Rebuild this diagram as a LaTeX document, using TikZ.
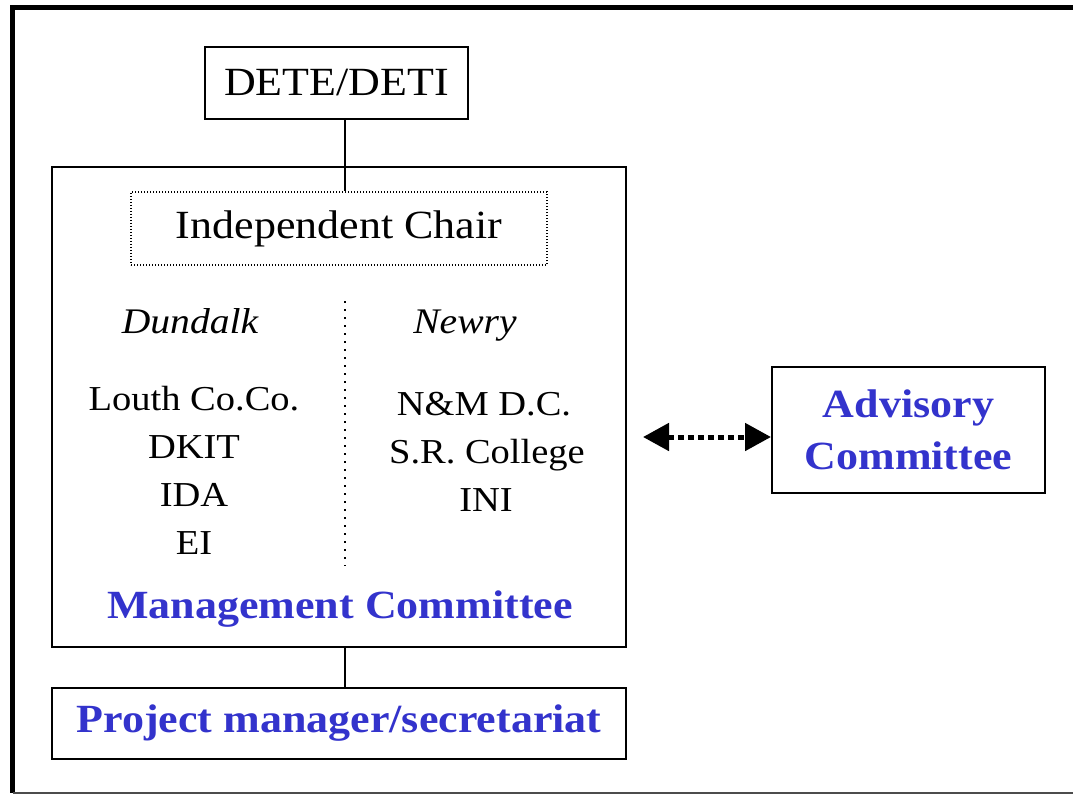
\documentclass[tikz,border=0pt]{standalone}
\usepackage{fontspec}
\setmainfont{Liberation Serif}[FakeStretch=1.1]
\usetikzlibrary{arrows.meta}
\definecolor{mgmtblue}{RGB}{51,51,204}

\begin{document}
\begin{tikzpicture}[x=0.5pt, y=-0.5pt,
  box/.style={draw, line width=1pt, inner sep=0pt, align=center},
  chairbox/.style={draw, line width=0.8pt, dash pattern=on 0.6pt off 0.9pt, inner sep=0pt},
  plain/.style={font=\fontsize{20}{24}\selectfont},
  member/.style={font=\fontsize{17.5}{21}\selectfont, inner sep=0pt, anchor=base},
  town/.style={font=\fontsize{18}{21}\selectfont\itshape, inner sep=0pt, anchor=base},
  bluetitle/.style={font=\fontsize{20}{26}\selectfont\bfseries, text=mgmtblue},
  link/.style={line width=1pt},
  advlink/.style={line width=2.5pt, dash pattern=on 3pt off 2pt,
    {Triangle[length=13pt, width=13.5pt]}-{Triangle[length=13pt, width=13.5pt]}}]
  \useasboundingbox (0,0) rectangle (1073,794);
  \clip (0,0) rectangle (1073,794);
  % outer frame, runs off the right edge
  \draw[line width=2.5pt] (1090,7) -- (12.5,7) -- (12.5,793);
  \draw[line width=1pt, black!70] (12.5,793) -- (1090,793);
  % boxes
  \node[box, plain, minimum width=131.5pt, minimum height=36pt] (dete) at (336.5,83) {DETE/DETI};
  \node[box, minimum width=287pt, minimum height=240pt] (mgmt) at (339,407) {};
  \node[chairbox, plain, minimum width=208pt, minimum height=36.5pt] (chair) at (339,228.5) {Independent Chair};
  \node[box, bluetitle, minimum width=287pt, minimum height=35.5pt] (proj) at (339,723.5) {Project manager/secretariat};
  \node[box, bluetitle, minimum width=136.5pt, minimum height=63pt] (adv) at (908.5,430) {Advisory\\Committee};
  % members of the management committee
  \node[town] (dundalk) at (190,333) {Dundalk};
  \node[town] (newry) at (465,333) {Newry};
  \node[member] (louth) at (194,410) {Louth Co.Co.};
  \node[member] (dkit) at (194,458) {DKIT};
  \node[member] (ida) at (194,506) {IDA};
  \node[member] (ei) at (194,554) {EI};
  \node[member] (nmdc) at (484,415) {N\&M D.C.};
  \node[member] (srcollege) at (487,463) {S.R. College};
  \node[member] (ini) at (486,511) {INI};
  \draw[line width=1.2pt, dash pattern=on 1pt off 3pt] (345,301) -- (345,566);
  \node[bluetitle, inner sep=0pt, anchor=base] (mgmttitle) at (340,618) {Management Committee};
  % connectors
  \coordinate (stem) at (345,0);
  \coordinate (advin) at ([yshift=-3.5pt]adv.west);
  \draw[link] (dete.south -| stem) -- (chair.north -| stem);
  \draw[link] (mgmt.south -| stem) -- (proj.north -| stem);
  \draw[advlink, shorten <=8pt] (mgmt.east |- advin) -- (advin);
\end{tikzpicture}
\end{document}
